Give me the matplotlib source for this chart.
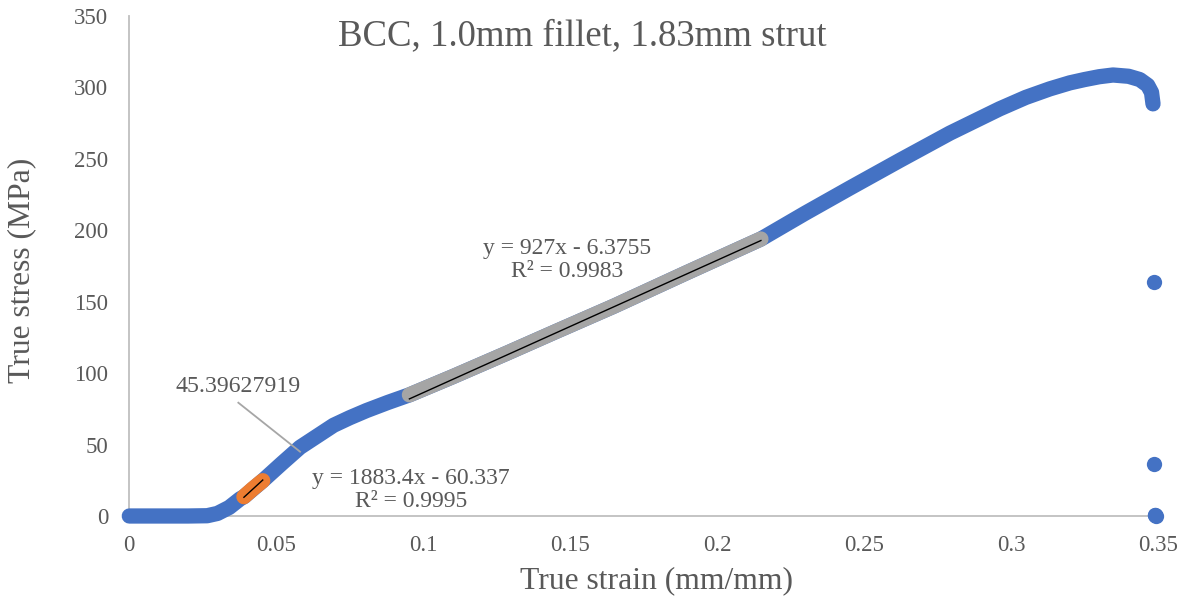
import numpy as np
import matplotlib.pyplot as plt

plt.rcParams['font.family'] = ['Liberation Serif', 'DejaVu Serif']

# main stress-strain curve
strain = [0.0, 0.010, 0.020, 0.0265, 0.030, 0.034, 0.0377, 0.039, 0.0454, 0.052,
          0.0581, 0.0695, 0.075, 0.0807, 0.088, 0.0953, 0.11, 0.1285, 0.145, 0.165,
          0.1893, 0.2149, 0.230, 0.2451, 0.2622, 0.2792, 0.2961, 0.305, 0.3132, 0.320,
          0.325, 0.330, 0.3347, 0.340, 0.3438, 0.3465, 0.3478, 0.3483]
stress = [0.0, 0.0, 0.0, 0.2, 1.8, 6.0, 12.0, 13.5, 24.7, 37.0,
          48.1, 63.5, 68.8, 73.8, 79.5, 84.8, 97.5, 114.0, 129.0, 147.0,
          170.0, 193.9, 212.0, 229.5, 249.0, 268.0, 285.0, 293.0, 299.0, 303.2,
          305.5, 307.5, 308.7, 307.8, 305.5, 301.5, 296.5, 288.5]

# points after fracture
tail_strain = [0.3485, 0.3487, 0.3489, 0.3491, 0.3493]
tail_stress = [163.6, 36.4, 0.9, 0.5, 0.2]

# fitted regions
orange_strain = [0.039, 0.042, 0.0454]
orange_stress = [13.5, 19.0, 24.7]
gray_strain = [0.0953, 0.11, 0.1285, 0.145, 0.165, 0.1893, 0.2149]
gray_stress = [84.8, 97.5, 114.0, 129.0, 147.0, 170.0, 193.9]

fit1 = (1883.4, -60.337)
fit2 = (927.0, -6.3755)

blue = '#4472C4'
orange = '#ED7D31'
grey = '#A5A5A5'
txt = '#595959'

fig = plt.figure(figsize=(11.91, 6.03), dpi=100)
ax = fig.add_axes([129.3 / 1191, 1 - 516 / 603, (1158 - 129.3) / 1191, 500 / 603])

ax.plot(strain, stress, color=blue, lw=11, solid_capstyle='round',
        solid_joinstyle='round', clip_on=False, zorder=3)
ax.plot(tail_strain, tail_stress, 'o', color=blue, ms=11, mew=0,
        clip_on=False, zorder=3)
ax.plot(orange_strain, orange_stress, color=orange, lw=11, solid_capstyle='round',
        zorder=4)
ax.plot(gray_strain, gray_stress, color=grey, lw=11, solid_capstyle='round',
        solid_joinstyle='round', zorder=4)

# trendlines
for seg, (m, b) in [(orange_strain, fit1), (gray_strain, fit2)]:
    xs = np.array([seg[0], seg[-1]])
    ax.plot(xs, m * xs + b, color='black', lw=1, zorder=5)

ax.set_xlim(0, 0.35)
ax.set_ylim(0, 350)
ax.set_xticks([0, 0.05, 0.1, 0.15, 0.2, 0.25, 0.3, 0.35])
ax.set_xticklabels(['0', '0.05', '0.1', '0.15', '0.2', '0.25', '0.3', '0.35'])
ax.set_yticks(range(0, 351, 50))
for s in ['top', 'right']:
    ax.spines[s].set_visible(False)
for s in ['left', 'bottom']:
    ax.spines[s].set_color('#BFBFBF')
    ax.spines[s].set_linewidth(1.3)
ax.tick_params(length=0, labelsize=16.5, colors=txt)
ax.tick_params(axis='y', pad=15)
ax.tick_params(axis='x', pad=14)

fig.text(657 / 1191, 1 - 581 / 603, 'True strain (mm/mm)', fontsize=22.8,
         color=txt, ha='center', va='center')
fig.text(22 / 1191, 1 - 270 / 603, 'True stress (MPa)', fontsize=22.8,
         color=txt, ha='center', va='center', rotation=90)
fig.text(582 / 1191, 1 - 36 / 603, 'BCC, 1.0mm fillet, 1.83mm strut',
         fontsize=26.5, color=txt, ha='center', va='center')

ax.text(0.1490, 179.2, 'y = 927x - 6.3755\nR² = 0.9983', fontsize=17,
        color=txt, ha='center', va='center', linespacing=1.1, zorder=6)
ax.text(0.0958, 18.2, 'y = 1883.4x - 60.337\nR² = 0.9995', fontsize=17,
        color=txt, ha='center', va='center', linespacing=1.1, zorder=6)
ax.text(0.0371, 90.5, '45.39627919', fontsize=17.2, color=txt,
        ha='center', va='center', zorder=6)
ax.plot([0.0371, 0.0581], [79.3, 45.0], color='#A6A6A6', lw=1.3, zorder=6)

fig.savefig('out.png', dpi=100)
